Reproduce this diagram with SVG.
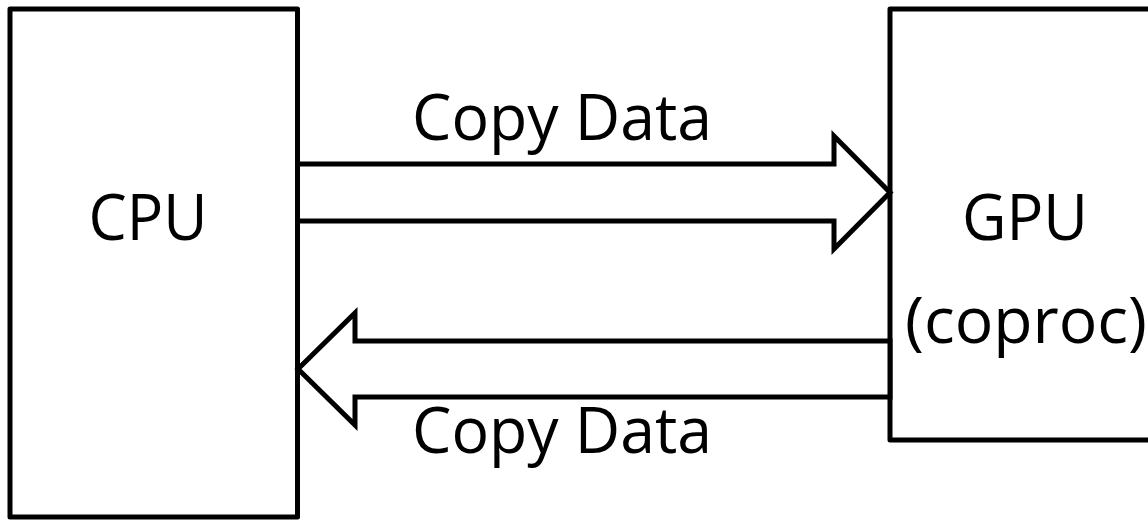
<svg xmlns="http://www.w3.org/2000/svg" width="1148" height="520" viewBox="0 0 1148 520">
  <style>
    .box { fill: #ffffff; stroke: #000000; stroke-width: 5; stroke-linejoin: round; }
    .arrow { fill: #ffffff; stroke: #000000; stroke-width: 5; stroke-linejoin: miter; }
    .label { font-family: "Open Sans", "Liberation Sans", sans-serif; font-size: 64px; fill: #000000; text-anchor: middle; }
  </style>
  <rect width="1148" height="520" fill="#ffffff"/>

  <!-- processors -->
  <g id="cpu">
    <rect class="box" x="10" y="9" width="287.5" height="508"/>
    <text class="label" x="148" y="240" textLength="119" lengthAdjust="spacingAndGlyphs">CPU</text>
  </g>
  <g id="gpu">
    <rect class="box" x="890" y="9" width="300" height="431"/>
    <text class="label" x="1025" y="240" textLength="126" lengthAdjust="spacingAndGlyphs">GPU</text>
    <text class="label" x="1026" y="343" textLength="242" lengthAdjust="spacingAndGlyphs">(coproc)</text>
  </g>

  <!-- transfer arrows -->
  <g id="connectors">
    <polygon class="arrow" points="297.5,164 834,164 834,136 890,192.5 834,249 834,221 297.5,221"/>
    <polygon class="arrow" points="890,341 355,341 355,313 298,369 355,425 355,397 890,397"/>
    <text class="label" x="562" y="140" textLength="300" lengthAdjust="spacingAndGlyphs">Copy Data</text>
    <text class="label" x="562" y="453" textLength="300" lengthAdjust="spacingAndGlyphs">Copy Data</text>
  </g>
</svg>
